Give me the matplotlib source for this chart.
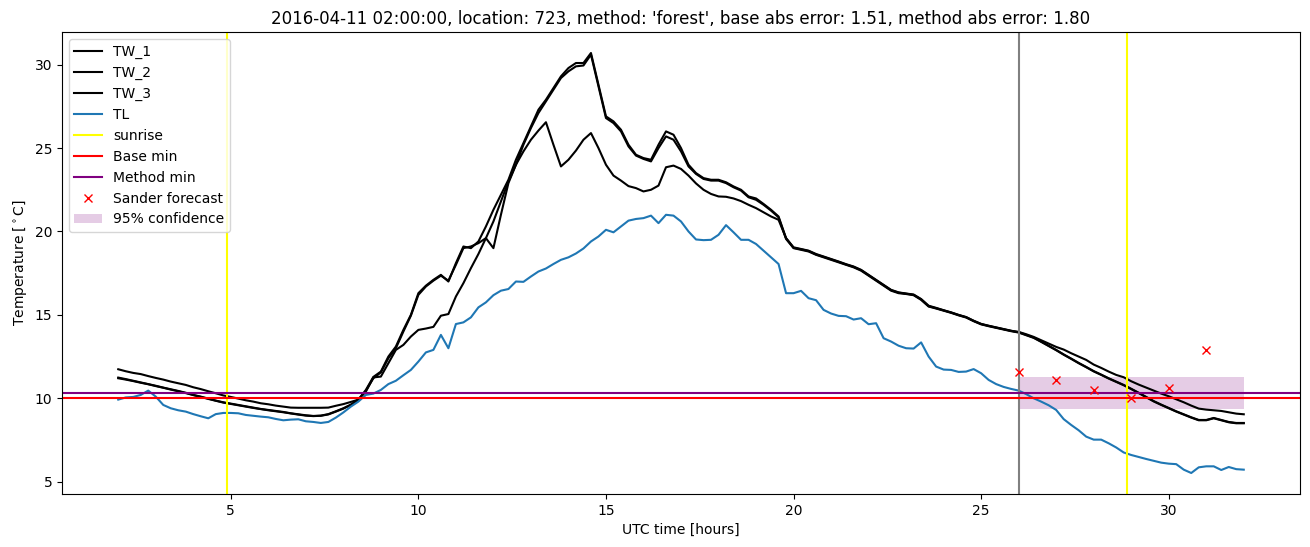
import numpy as np
import matplotlib
matplotlib.use("Agg")
import matplotlib.pyplot as plt

# hours since 2016-04-11 00:00 UTC, 12 min steps
hours = np.arange(2.0, 32.001, 0.2)

tw_1 = [11.24, 11.15, 11.05, 10.95, 10.85, 10.75, 10.64, 10.54, 10.44, 10.33,
        10.2, 10.1, 9.98, 9.86, 9.76, 9.68, 9.6, 9.52, 9.44, 9.36,
        9.3, 9.24, 9.18, 9.1, 9.04, 8.98, 8.94, 8.96, 9.05, 9.22,
        9.4, 9.62, 9.92, 10.5, 11.28, 11.6, 12.5, 13.1, 14.1, 15.0,
        16.3, 16.75, 17.1, 17.4, 17.0, 18.1, 19.1, 19.0, 19.4, 20.3,
        21.3, 22.2, 23.1, 24.3, 25.3, 26.3, 27.3, 27.9, 28.6, 29.3,
        29.8, 30.1, 30.1, 30.7, 28.8, 26.9, 26.6, 26.1, 25.2, 24.6,
        24.4, 24.3, 25.2, 26.0, 25.8, 25.0, 24.0, 23.5, 23.2, 23.1,
        23.1, 22.95, 22.7, 22.5, 22.1, 21.98, 21.65, 21.3, 20.9, 19.6,
        19.05, 18.95, 18.85, 18.65, 18.5, 18.35, 18.2, 18.04, 17.9, 17.7,
        17.4, 17.1, 16.8, 16.5, 16.35, 16.28, 16.22, 15.95, 15.55, 15.42,
        15.28, 15.15, 15.0, 14.87, 14.65, 14.46, 14.35, 14.25, 14.15, 14.05,
        13.96, 13.8, 13.64, 13.4, 13.15, 12.9, 12.63, 12.38, 12.12, 11.88,
        11.63, 11.42, 11.2, 11.0, 10.8, 10.57, 10.33, 10.08, 9.83, 9.62,
        9.42, 9.22, 9.04, 8.86, 8.7, 8.7, 8.82, 8.7, 8.58, 8.52,
        8.52]

tw_2 = [11.2, 11.12, 11.03, 10.93, 10.84, 10.73, 10.63, 10.52, 10.42, 10.31,
        10.19, 10.08, 9.96, 9.85, 9.74, 9.66, 9.58, 9.5, 9.42, 9.35,
        9.28, 9.22, 9.16, 9.09, 9.02, 8.96, 8.93, 8.95, 9.03, 9.2,
        9.38, 9.6, 9.9, 10.45, 11.2, 11.55, 12.4, 13.0, 14.0, 14.95,
        16.2, 16.7, 17.05, 17.35, 17.05, 18.0, 19.0, 19.1, 19.3, 19.6,
        19.0, 21.0, 22.9, 24.0, 25.2, 26.2, 27.1, 27.8, 28.5, 29.2,
        29.6, 29.9, 29.95, 30.6, 28.7, 26.8, 26.5, 26.0, 25.1, 24.55,
        24.35, 24.2, 25.0, 25.7, 25.5, 24.8, 23.9, 23.45, 23.15, 23.05,
        23.05, 22.9, 22.65, 22.45, 22.05, 21.9, 21.6, 21.25, 20.85, 19.55,
        19.0, 18.9, 18.8, 18.6, 18.45, 18.3, 18.15, 18.0, 17.85, 17.65,
        17.35, 17.05, 16.75, 16.45, 16.3, 16.25, 16.18, 15.9, 15.5, 15.38,
        15.25, 15.12, 14.97, 14.84, 14.62, 14.43, 14.32, 14.22, 14.12, 14.02,
        13.94, 13.78, 13.62, 13.38, 13.13, 12.88, 12.61, 12.36, 12.1, 11.86,
        11.61, 11.4, 11.18, 10.98, 10.78, 10.55, 10.31, 10.06, 9.81, 9.6,
        9.4, 9.2, 9.02, 8.84, 8.68, 8.68, 8.8, 8.68, 8.56, 8.5,
        8.5]

tw_3 = [11.74, 11.62, 11.52, 11.45, 11.33, 11.22, 11.12, 11.0, 10.9, 10.8,
        10.66, 10.55, 10.42, 10.3, 10.17, 10.08, 9.98, 9.88, 9.8, 9.7,
        9.64, 9.56, 9.5, 9.44, 9.43, 9.43, 9.43, 9.43, 9.44, 9.55,
        9.65, 9.78, 9.92, 10.4, 11.25, 11.3, 12.1, 12.9, 13.2, 13.7,
        14.1, 14.18, 14.28, 14.95, 15.05, 16.1, 16.9, 17.8, 18.65, 19.6,
        20.6, 21.8, 23.0, 24.0, 24.8, 25.5, 26.05, 26.55, 25.2, 23.9,
        24.3, 24.85, 25.5, 25.9, 25.0, 24.0, 23.35, 23.05, 22.72, 22.6,
        22.4, 22.5, 22.75, 23.85, 23.95, 23.75, 23.35, 22.88, 22.5, 22.25,
        22.1, 22.08, 21.98, 21.82, 21.6, 21.4, 21.15, 20.9, 20.7, 19.6,
        19.02, 18.93, 18.83, 18.62, 18.48, 18.33, 18.18, 18.02, 17.88, 17.68,
        17.38, 17.08, 16.78, 16.48, 16.33, 16.27, 16.2, 15.93, 15.52, 15.4,
        15.27, 15.14, 14.99, 14.86, 14.64, 14.45, 14.34, 14.24, 14.14, 14.04,
        13.98, 13.84, 13.68, 13.48, 13.28, 13.08, 12.92, 12.7, 12.5, 12.3,
        12.02, 11.82, 11.6, 11.4, 11.26, 11.02, 10.82, 10.64, 10.46, 10.28,
        10.12, 9.94, 9.76, 9.56, 9.38, 9.32, 9.28, 9.24, 9.16, 9.08,
        9.04]

tl = [9.92, 10.05, 10.08, 10.2, 10.46, 10.1, 9.6, 9.4, 9.28, 9.2,
      9.05, 8.92, 8.8, 9.05, 9.12, 9.12, 9.1, 9.0, 8.95, 8.9,
      8.86, 8.76, 8.68, 8.72, 8.74, 8.62, 8.58, 8.52, 8.58, 8.84,
      9.15, 9.5, 9.8, 10.2, 10.28, 10.5, 10.85, 11.05, 11.38, 11.7,
      12.2, 12.75, 12.9, 13.8, 13.0, 14.45, 14.55, 14.85, 15.45, 15.75,
      16.18, 16.45, 16.55, 17.0, 16.98, 17.3, 17.6, 17.78, 18.05, 18.3,
      18.45, 18.68, 18.98, 19.4, 19.7, 20.1, 19.95, 20.3, 20.65, 20.75,
      20.8, 20.95, 20.5, 21.0, 20.95, 20.6, 20.0, 19.52, 19.48, 19.5,
      19.8, 20.38, 19.95, 19.5, 19.5, 19.25, 18.85, 18.45, 18.05, 16.3,
      16.3, 16.44, 16.0, 15.88, 15.3, 15.08, 14.94, 14.92, 14.72, 14.8,
      14.44, 14.5, 13.6, 13.4, 13.15, 13.0, 12.98, 13.35, 12.5, 11.9,
      11.72, 11.7, 11.58, 11.6, 11.75, 11.5, 11.1, 10.85, 10.68, 10.56,
      10.46, 10.25, 10.0, 9.8, 9.58, 9.3, 8.75, 8.4, 8.08, 7.7,
      7.52, 7.52, 7.3, 7.05, 6.75, 6.6, 6.48, 6.36, 6.25, 6.14,
      6.08, 6.05, 5.72, 5.52, 5.86, 5.92, 5.92, 5.7, 5.88, 5.75,
      5.72]

sunrise_hours = [4.89, 28.88]
forecast_start = 26.0
base_min = 10.0
method_min = 10.3

forecast_hours = [26, 27, 28, 29, 30, 31]
sander_forecast = [11.6, 11.1, 10.5, 10.0, 10.6, 12.9]

conf_hours = [26.0, 32.0]
conf_low = 9.33
conf_high = 11.3

fig, ax = plt.subplots(figsize=(13.1, 5.47), dpi=100)
fig.subplots_adjust(left=0.0473, right=0.9924, bottom=0.0969, top=0.9415)

ax.plot(hours, tw_1, color="black", label="TW_1")
ax.plot(hours, tw_2, color="black", label="TW_2")
ax.plot(hours, tw_3, color="black", label="TW_3")
ax.plot(hours, tl, color="tab:blue", label="TL")

for i, h in enumerate(sunrise_hours):
    ax.axvline(h, color="yellow", label="sunrise" if i == 0 else None)
ax.axvline(forecast_start, color="gray")

ax.axhline(base_min, color="red", label="Base min")
ax.axhline(method_min, color="purple", label="Method min")

ax.plot(forecast_hours, sander_forecast, "x", color="red", label="Sander forecast")
ax.fill_between(conf_hours, conf_low, conf_high, color="purple", alpha=0.2,
                linewidth=0, label="95% confidence")

ax.set_title("2016-04-11 02:00:00, location: 723, method: 'forest', "
             "base abs error: 1.51, method abs error: 1.80")
ax.set_xlabel("UTC time [hours]")
ax.set_ylabel(r"Temperature [$^\circ$C]")
ax.legend(loc="upper left")

plt.savefig("out.png")
plt.close()
